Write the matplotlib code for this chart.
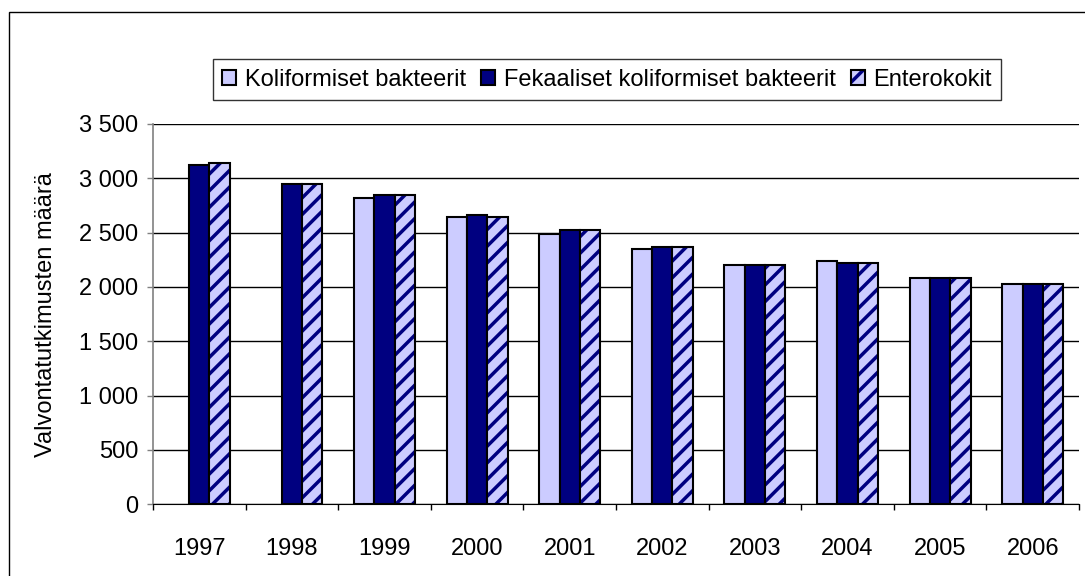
import matplotlib
matplotlib.use("Agg")
import matplotlib.pyplot as plt
from matplotlib.patches import Rectangle
from matplotlib.ticker import FuncFormatter
import numpy as np

years = ["1997", "1998", "1999", "2000", "2001", "2002", "2003", "2004", "2005", "2006"]
koliformiset = [np.nan, np.nan, 2820, 2645, 2485, 2345, 2200, 2240, 2080, 2025]
fekaaliset = [3125, 2950, 2845, 2665, 2525, 2365, 2200, 2225, 2080, 2025]
enterokokit = [3145, 2950, 2845, 2648, 2525, 2365, 2200, 2225, 2080, 2025]
series_names = ["Koliformiset bakteerit", "Fekaaliset koliformiset bakteerit", "Enterokokit"]

plt.rcParams["font.family"] = ["Liberation Sans", "DejaVu Sans"]
plt.rcParams["hatch.linewidth"] = 2.5

fig = plt.figure(figsize=(10.85, 5.76), dpi=100)
ax = fig.add_axes([153 / 1085, 1 - 504.3 / 576, 926 / 1085, 380.3 / 576])

x = np.arange(len(years))
w = 0.22
fs = 17

light = "#CCCCFF"
navy = "#000080"

# gridlines first so the bars sit on top
ax.set_axisbelow(True)
ax.yaxis.grid(True, color="black", linewidth=1)

b1 = ax.bar(x - w, koliformiset, w, color=light, edgecolor="black", linewidth=1.5)
b2 = ax.bar(x, fekaaliset, w, color=navy, edgecolor="black", linewidth=1.5)
# hatched bars: fill + navy hatch, then black outline on top
b3 = ax.bar(x + w, enterokokit, w, color=light, edgecolor=navy, hatch="//", linewidth=0)
b3_edge = ax.bar(x + w, enterokokit, w, fill=False, edgecolor="black", linewidth=1.5)

ax.set_xlim(-0.5, len(years) - 0.5)
ax.set_ylim(0, 3500)
ax.set_yticks(np.arange(0, 3501, 500))
ax.yaxis.set_major_formatter(FuncFormatter(lambda v, p: f"{int(v):,}".replace(",", " ")))

# tick marks at category boundaries, labels at centers
ax.set_xticks(np.arange(-0.5, len(years), 1.0))
ax.set_xticklabels([])
ax.set_xticks(x, years, minor=True)
ax.tick_params(axis="x", which="major", length=4.5, width=1, color="black")
ax.tick_params(axis="x", which="minor", length=0, pad=24, labelsize=fs)
ax.tick_params(axis="y", length=4.5, width=1, pad=6, labelsize=fs, color="#808080")

for s in ["top", "right"]:
    ax.spines[s].set_visible(False)
ax.spines["left"].set_color("#808080")
ax.spines["left"].set_linewidth(1.2)
ax.spines["bottom"].set_color("black")

ax.set_ylabel("Valvontatutkimusten määrä", fontsize=fs)
ax.yaxis.set_label_coords(-96 / 926, 0.5)

leg = fig.legend(handles=[b1, b2, (b3, b3_edge)], labels=series_names, loc="center",
                 bbox_to_anchor=(607 / 1085, 1 - 79.5 / 576),
                 ncol=3, fontsize=fs, frameon=True, fancybox=False, edgecolor="black",
                 handlelength=0.6, handleheight=0.6, handletextpad=0.35, columnspacing=0.65,
                 borderpad=0.4, borderaxespad=0)
leg.get_frame().set_linewidth(1)

# outer chart border
fig.patches.append(Rectangle((9 / 1085, -0.1), 1.1, 1 - 12 / 576 + 0.1, transform=fig.transFigure,
                             fill=False, edgecolor="black", linewidth=1))

fig.savefig("out.png", dpi=100)
